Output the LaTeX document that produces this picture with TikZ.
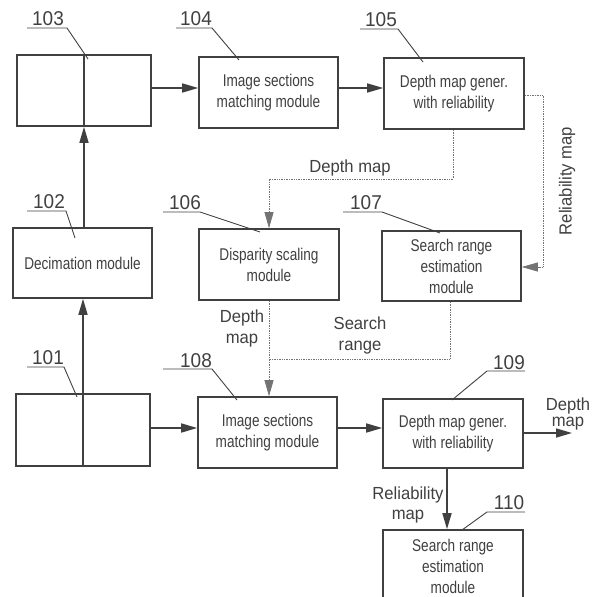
\documentclass[tikz,border=0pt]{standalone}
\usepackage{fontspec}
\setmainfont{Liberation Sans}
\newfontfamily\boxfont{Liberation Sans}[FakeStretch=0.8]
\newfontfamily\lblfont{Liberation Sans}[FakeStretch=0.95]
\usetikzlibrary{arrows.meta}
\definecolor{ink}{gray}{0.25}
\definecolor{thin}{gray}{0.45}
\tikzset{
  box/.style={draw=ink, line width=1.6pt, minimum width=139pt, minimum height=71pt, inner sep=0pt,
    align=center, text=ink, font=\boxfont\fontsize{17}{21}\selectfont},
  arr/.style={draw=ink, line width=1.6pt, -{Triangle[length=16pt,width=9pt]}},
  tarr/.style={draw=thin, line width=0.7pt, densely dotted, -{Triangle[length=16pt,width=9pt]}},
  tline/.style={draw=thin, line width=0.7pt, densely dotted},
  num/.style={text=ink, font=\lblfont\fontsize{20}{24}\selectfont, inner sep=0pt},
  lead/.style={draw=ink, line width=0.9pt},
  lbl/.style={text=ink, align=center, inner sep=0pt, font=\lblfont\fontsize{17.5}{21}\selectfont}
}
\begin{document}
\begin{tikzpicture}[x=1pt,y=-1pt]
\clip (0,0) rectangle (593,597);
% boxes
\node[box, minimum width=134pt] (b103) at (84,90.5) {};
\draw[ink, line width=1.6pt] (b103.north) -- (b103.south);
\node[box] (b104) at (268.5,92.5) {Image sections\\matching module};
\node[box, minimum width=140pt] (b105) at (454,93.5) {Depth map gener.\\with reliability};
\node[box, minimum height=70pt] (b102) at (82.5,263) {Decimation module};
\node[box, minimum width=140pt] (b106) at (269,264.5) {Disparity scaling\\module};
\node[box, minimum height=70pt] (b107) at (451.5,266) {Search range\\estimation\\module};
\node[box, minimum width=134pt, minimum height=72pt] (b101) at (83,430) {};
\draw[ink, line width=1.6pt] (b101.north) -- (b101.south);
\node[box] (b108) at (267.5,432.5) {Image sections\\matching module};
\node[box, minimum width=140pt, minimum height=69pt] (b109) at (453,433.5) {Depth map gener.\\with reliability};
\node[box, minimum width=140pt, minimum height=72pt] (b110) at (453,566) {Search range\\estimation\\module};
% solid arrows
\draw[arr] (b103.east |- 0,88) -- (b104.west |- 0,88);
\draw[arr] (b104.east |- 0,88) -- (b105.west |- 0,88);
\draw[arr] (b103.south |- b102.north) -- (b103.south);
\draw[arr] (b101.north) -- (b101.north |- b102.south);
\draw[arr] (b101.east |- 0,428) -- (b108.west |- 0,428);
\draw[arr] (b108.east |- 0,428) -- (b109.west |- 0,428);
\coordinate (out) at (572,433);
\draw[arr] (b109.east |- out) -- (out);
\draw[arr] (b109.south -| 447,0) -- (b110.north -| 447,0);
% thin connectors
\draw[tarr] (b105.south -| 453,0) |- (269,179) -- (b106.north -| 269,0);
\draw[tarr] (b105.east |- 0,95) -| (543,267) -- (b107.east |- 0,267);
\coordinate (join) at (269,359);
\draw[tarr] (b106.south -| 269,0) -- (b108.north -| 269,0);
\draw[tline] (b107.south -| 450,0) |- (join);
% labels
\node[lbl] (ldm1) at (350,168) {Depth map};
\node[lbl, rotate=90] (lrm1) at (567,181) {Reliability map};
\node[lbl] (ldm2) at (242,328) {Depth\\map};
\node[lbl] (lsr) at (360,335) {Search\\range};
\node[lbl, font=\lblfont\fontsize{17.5}{16}\selectfont] (ldm3) at (568,414) {Depth\\map};
\node[lbl, font=\lblfont\fontsize{17.5}{20}\selectfont] (lrm2) at (408,505) {Reliability\\map};
% reference numerals
\node[num] (n103) at (48,19) {103};
\draw[lead] (27,28) -- (67,28) -- (88,59);
\node[num] (n104) at (196,19) {104};
\draw[lead] (176,28) -- (212,28) -- (239,60);
\node[num] (n105) at (381,20) {105};
\draw[lead] (360,29) -- (398,29) -- (423,62);
\node[num] (n102) at (49,202) {102};
\draw[lead] (27,211) -- (66,211) -- (75,238);
\node[num] (n106) at (185,203) {106};
\draw[lead] (163,212) -- (200,212) -- (260,232);
\node[num] (n107) at (366,203) {107};
\draw[lead] (343,212) -- (382,212) -- (440,233);
\node[num] (n101) at (48,358) {101};
\draw[lead] (27,367) -- (64,367) -- (77,397);
\node[num] (n108) at (196,361) {108};
\draw[lead] (163,369) -- (212,369) -- (237,400);
\node[num] (n109) at (509,363) {109};
\draw[lead] (525,371) -- (487,371) -- (452,400);
\node[num] (n110) at (509,503) {110};
\draw[lead] (525,512) -- (487,512) -- (462,530);
\end{tikzpicture}
\end{document}
